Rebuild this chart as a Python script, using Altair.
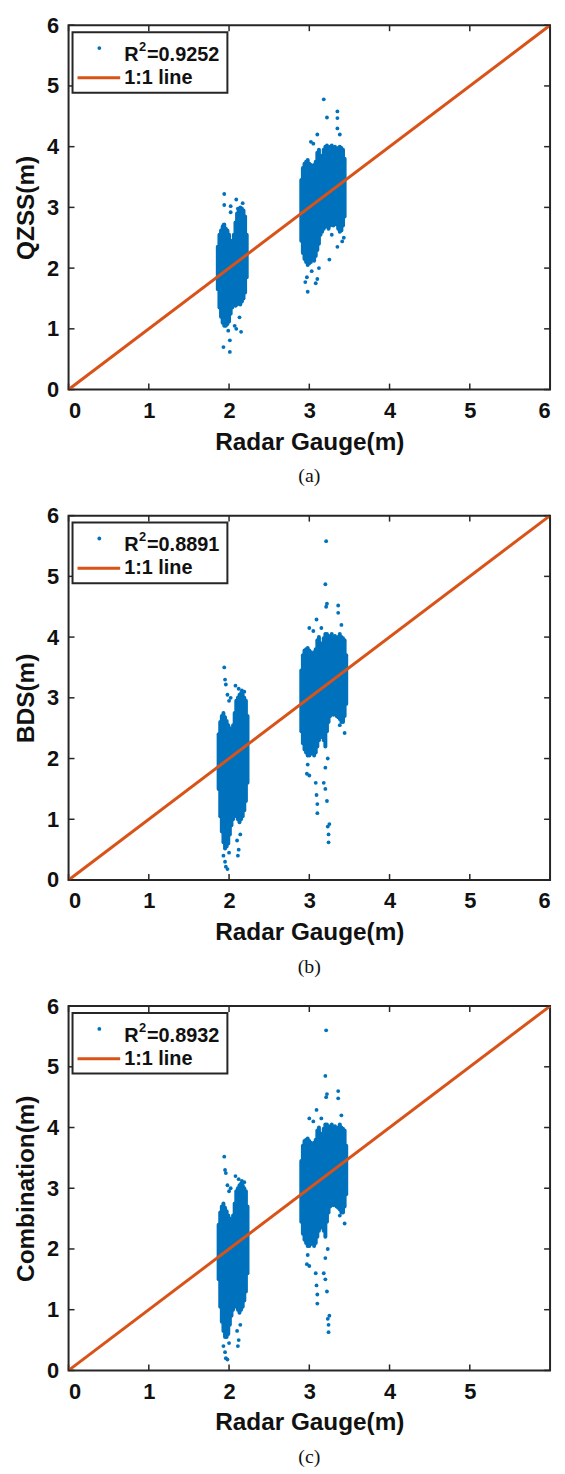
import altair as alt
import pandas as pd

# ---------------- data ----------------
x_ticks_ab = [0, 1, 2, 3, 4, 5, 6]
x_ticks_c = [0, 1, 2, 3, 4, 5]
y_ticks = [0, 1, 2, 3, 4, 5, 6]
line_x = [0, 6]
line_y = [0, 6]
y_titles = ["QZSS(m)", "BDS(m)", "Combination(m)"]
r2_values = ["=0.9252", "=0.8891", "=0.8932"]
r2_symbol = ["R", "2"]
line_label = "1:1 line"
captions = ["(a)", "(b)", "(c)"]
x_title = "Radar Gauge(m)"

# (a) QZSS  - dense core columns (x, lower edge, upper edge) and scattered points
a_core_x = [1.86, 1.88, 1.90, 1.92, 1.94, 1.96, 1.98, 2.00, 2.02, 2.04, 2.06, 2.08, 2.10, 2.12, 2.14, 2.16, 2.18, 2.20, 2.22,
            2.90, 2.92, 2.94, 2.96, 2.98, 3.00, 3.02, 3.04, 3.06, 3.08, 3.10, 3.12, 3.14, 3.16, 3.18, 3.20, 3.22, 3.24,
            3.26, 3.28, 3.30, 3.32, 3.34, 3.36, 3.38, 3.40, 3.42, 3.44]
a_core_lo = [1.65, 1.35, 1.20, 1.10, 1.05, 1.05, 1.08, 1.12, 1.25, 1.35, 1.40, 1.38, 1.40, 1.42, 1.40, 1.45, 1.50, 1.60, 1.85,
             2.45, 2.25, 2.15, 2.10, 2.05, 2.08, 2.10, 2.15, 2.12, 2.20, 2.30, 2.40, 2.55, 2.60, 2.65, 2.68, 2.70, 2.65,
             2.70, 2.72, 2.70, 2.75, 2.72, 2.65, 2.60, 2.62, 2.70, 2.85]
a_core_hi = [2.35, 2.55, 2.62, 2.68, 2.72, 2.65, 2.62, 2.55, 2.45, 2.40, 2.55, 2.75, 2.90, 2.95, 3.00, 2.98, 2.95, 2.85, 2.55,
             3.45, 3.65, 3.72, 3.75, 3.78, 3.72, 3.70, 3.68, 3.70, 3.75, 3.90, 3.95, 3.85, 3.80, 3.95, 4.00, 4.02, 3.98,
             4.00, 4.02, 3.98, 4.00, 3.95, 3.98, 4.00, 3.98, 3.95, 3.80]
a_pts_x = [1.94, 1.94, 2.02, 2.09, 2.17, 2.02, 2.11, 1.93, 1.93, 2.01, 2.01, 2.15, 2.09, 2.13, 2.07, 1.99, 1.95,
           3.18, 3.35, 3.35, 3.22, 3.35, 3.10, 3.38, 3.02, 3.05, 3.41, 3.25, 2.98, 2.95, 3.10, 3.08, 2.97, 3.03,
           3.12, 3.35, 3.28, 3.43]
a_pts_y = [3.22, 3.04, 3.02, 3.13, 3.07, 2.92, 2.98, 2.71, 0.70, 0.62, 0.81, 0.95, 1.00, 1.19, 1.05, 0.97, 1.10,
           4.78, 4.58, 4.47, 4.48, 4.30, 4.20, 4.20, 4.08, 4.05, 2.44, 2.14, 1.61, 1.77, 1.82, 1.75, 1.85, 1.95,
           2.00, 2.35, 2.55, 2.50]

# (b) BDS
b_core_x = [1.87, 1.89, 1.91, 1.93, 1.95, 1.97, 1.99, 2.01, 2.03, 2.05, 2.07, 2.09, 2.11, 2.13, 2.15, 2.17, 2.19, 2.21, 2.23,
            2.90, 2.92, 2.94, 2.96, 2.98, 3.00, 3.02, 3.04, 3.06, 3.08, 3.10, 3.12, 3.14, 3.16, 3.18, 3.20, 3.22, 3.24,
            3.26, 3.28, 3.30, 3.32, 3.34, 3.36, 3.38, 3.40, 3.42, 3.44, 3.46]
b_core_lo = [1.50, 1.05, 0.80, 0.62, 0.52, 0.55, 0.60, 0.75, 0.90, 1.00, 1.10, 1.05, 1.00, 0.95, 1.00, 1.05, 1.15, 1.30, 1.60,
             2.45, 2.25, 2.15, 2.10, 2.05, 2.05, 2.08, 2.10, 2.05, 2.10, 2.20, 2.30, 2.35, 2.40, 2.30, 2.20, 2.45, 2.60,
             2.70, 2.75, 2.72, 2.75, 2.70, 2.68, 2.65, 2.62, 2.60, 2.70, 2.90]
b_core_hi = [2.40, 2.60, 2.70, 2.75, 2.68, 2.62, 2.55, 2.50, 2.45, 2.55, 2.75, 2.95, 3.00, 3.05, 3.08, 3.05, 3.00, 2.95, 2.70,
             3.45, 3.70, 3.78, 3.80, 3.82, 3.78, 3.75, 3.72, 3.75, 3.80, 3.95, 4.00, 3.90, 3.85, 3.98, 4.05, 4.05, 4.00,
             4.02, 4.05, 4.00, 4.02, 3.98, 4.00, 4.05, 4.00, 3.98, 3.95, 3.70]
b_pts_x = [1.94, 1.95, 1.96, 1.98, 2.00, 2.08, 2.12, 2.16, 2.19, 2.02, 1.95, 1.96, 1.98, 1.93, 2.11, 2.12, 2.10, 2.14, 2.00,
           3.21, 3.20, 3.22, 3.21, 3.36, 3.36, 3.09, 3.00, 3.05, 3.15, 3.40, 3.10, 3.10, 3.09, 3.08, 3.00, 2.97, 2.98,
           3.24, 3.24, 3.23, 3.25, 3.22, 3.20, 3.18, 3.20, 3.23, 3.44, 3.40, 3.38]
b_pts_y = [3.50, 3.30, 3.22, 3.05, 2.95, 3.20, 3.15, 3.12, 3.10, 3.00, 0.30, 0.22, 0.18, 0.40, 0.40, 0.50, 0.65, 0.75, 0.45,
           5.58, 4.87, 4.55, 4.50, 4.52, 4.40, 4.29, 4.15, 4.10, 4.15, 4.20, 1.10, 1.25, 1.40, 1.60, 1.72, 1.75, 1.90,
           0.62, 0.75, 0.88, 0.92, 1.30, 1.50, 1.60, 1.85, 2.00, 2.42, 2.60, 2.55]

# (c) Combination
c_core_x = [1.87, 1.89, 1.91, 1.93, 1.95, 1.97, 1.99, 2.01, 2.03, 2.05, 2.07, 2.09, 2.11, 2.13, 2.15, 2.17, 2.19, 2.21, 2.23,
            2.90, 2.92, 2.94, 2.96, 2.98, 3.00, 3.02, 3.04, 3.06, 3.08, 3.10, 3.12, 3.14, 3.16, 3.18, 3.20, 3.22, 3.24,
            3.26, 3.28, 3.30, 3.32, 3.34, 3.36, 3.38, 3.40, 3.42, 3.44, 3.46]
c_core_lo = [1.50, 1.05, 0.80, 0.65, 0.55, 0.55, 0.60, 0.75, 0.90, 1.00, 1.10, 1.05, 1.00, 0.95, 1.00, 1.05, 1.15, 1.30, 1.60,
             2.45, 2.25, 2.15, 2.10, 2.05, 2.05, 2.08, 2.10, 2.05, 2.10, 2.20, 2.30, 2.35, 2.40, 2.30, 2.20, 2.45, 2.60,
             2.70, 2.75, 2.72, 2.75, 2.70, 2.68, 2.65, 2.62, 2.60, 2.70, 2.90]
c_core_hi = [2.40, 2.60, 2.70, 2.75, 2.68, 2.62, 2.55, 2.50, 2.45, 2.55, 2.75, 2.95, 3.00, 3.05, 3.08, 3.05, 3.00, 2.95, 2.70,
             3.45, 3.70, 3.78, 3.80, 3.82, 3.78, 3.75, 3.72, 3.75, 3.80, 3.95, 4.00, 3.90, 3.85, 3.98, 4.05, 4.05, 4.00,
             4.02, 4.05, 4.00, 4.02, 3.98, 4.00, 4.05, 4.00, 3.98, 3.95, 3.70]
c_pts_x = [1.94, 1.95, 1.96, 1.98, 2.00, 2.08, 2.12, 2.16, 2.19, 2.02, 1.95, 1.96, 1.98, 1.93, 2.11, 2.12, 2.10, 2.14, 2.00,
           3.21, 3.20, 3.22, 3.21, 3.36, 3.36, 3.09, 3.00, 3.05, 3.15, 3.40, 3.10, 3.10, 3.09, 3.08, 3.00, 2.97, 2.98,
           3.24, 3.24, 3.23, 3.25, 3.22, 3.20, 3.18, 3.20, 3.23, 3.44, 3.40, 3.38]
c_pts_y = [3.52, 3.30, 3.25, 3.05, 2.95, 3.20, 3.15, 3.12, 3.10, 3.00, 0.30, 0.20, 0.18, 0.40, 0.40, 0.50, 0.65, 0.75, 0.45,
           5.60, 4.85, 4.55, 4.50, 4.60, 4.48, 4.29, 4.15, 4.10, 4.15, 4.20, 1.10, 1.25, 1.40, 1.60, 1.72, 1.75, 1.90,
           0.63, 0.75, 0.85, 0.90, 1.30, 1.50, 1.60, 1.85, 2.00, 2.42, 2.60, 2.55]

# ---------------- styling ----------------
BLUE = "#0072BD"
ORANGE = "#D95319"
FRAME = "#262626"
INK = "#111111"
SANS = "Liberation Sans"
SERIF = "Liberation Serif"
W, H = 485, 367


def panel(core_x, core_lo, core_hi, pts_x, pts_y, ytitle, r2val, caption, xvals):
    xs = alt.Scale(domain=[0, 6], nice=False, zero=True)
    ys = alt.Scale(domain=[0, 6], nice=False, zero=True)
    core = pd.DataFrame({"x": core_x, "lo": core_lo, "hi": core_hi})
    pts = pd.DataFrame({"x": pts_x, "y": pts_y})
    one = pd.DataFrame({"x": line_x, "y": line_y})
    xt = pd.DataFrame({"x": xvals})
    yt = pd.DataFrame({"y": y_ticks})
    dummy = pd.DataFrame({"d": [0]})

    xaxis = alt.Axis(values=xvals, format="d", title=x_title, domain=False, ticks=False, grid=False,
                     labelFont=SANS, labelFontWeight="bold", labelFontSize=22, labelColor=INK,
                     labelPadding=11, titleFont=SANS, titleFontWeight="bold", titleFontSize=24.5,
                     titleColor=INK, titlePadding=9)
    yaxis = alt.Axis(values=y_ticks, format="d", title=ytitle, domain=False, ticks=False, grid=False,
                     labelFont=SANS, labelFontWeight="bold", labelFontSize=22, labelColor=INK,
                     labelPadding=10, titleFont=SANS, titleFontWeight="bold", titleFontSize=24.5,
                     titleColor=INK, titlePadding=8)
    X = lambda f: alt.X(f, scale=xs, axis=xaxis)
    Y = lambda f: alt.Y(f, scale=ys, axis=yaxis)

    core_layer = alt.Chart(core).mark_rule(color=BLUE, strokeWidth=4, strokeCap="round").encode(
        x=X("x:Q"), y=Y("lo:Q"), y2="hi:Q")
    pts_layer = alt.Chart(pts).mark_circle(color=BLUE, size=15, opacity=1).encode(
        x=X("x:Q"), y=Y("y:Q"))
    line_layer = alt.Chart(one).mark_line(color=ORANGE, strokeWidth=3).encode(
        x=X("x:Q"), y=Y("y:Q"))
    tick_b = alt.Chart(xt).mark_rule(color=FRAME, strokeWidth=1.5).encode(
        x=X("x:Q"), y=alt.value(H), y2=alt.value(H - 6))
    tick_t = alt.Chart(xt).mark_rule(color=FRAME, strokeWidth=1.5).encode(
        x=X("x:Q"), y=alt.value(0), y2=alt.value(6))
    tick_l = alt.Chart(yt).mark_rule(color=FRAME, strokeWidth=1.5).encode(
        y=Y("y:Q"), x=alt.value(0), x2=alt.value(6))
    tick_r = alt.Chart(yt).mark_rule(color=FRAME, strokeWidth=1.5).encode(
        y=Y("y:Q"), x=alt.value(W), x2=alt.value(W - 6))

    leg_box = alt.Chart(dummy).mark_rect(fill="white", stroke=FRAME, strokeWidth=2).encode(
        x=alt.value(4), x2=alt.value(160), y=alt.value(7), y2=alt.value(68))
    leg_dot = alt.Chart(dummy).mark_circle(color=BLUE, size=15, opacity=1).encode(
        x=alt.value(31), y=alt.value(23))
    leg_line = alt.Chart(dummy).mark_rule(color=ORANGE, strokeWidth=3).encode(
        x=alt.value(9), x2=alt.value(52), y=alt.value(53))
    txt = dict(align="left", baseline="middle", font=SANS, fontWeight="bold", color=INK)
    leg_r = alt.Chart(dummy).mark_text(fontSize=20, **txt).encode(
        x=alt.value(56), y=alt.value(30), text=alt.value(r2_symbol[0]))
    leg_sup = alt.Chart(dummy).mark_text(fontSize=13, **txt).encode(
        x=alt.value(71), y=alt.value(22), text=alt.value(r2_symbol[1]))
    leg_val = alt.Chart(dummy).mark_text(fontSize=20, **txt).encode(
        x=alt.value(79), y=alt.value(30), text=alt.value(r2val))
    leg_t2 = alt.Chart(dummy).mark_text(fontSize=20, **txt).encode(
        x=alt.value(56), y=alt.value(53), text=alt.value(line_label))

    return alt.layer(core_layer, pts_layer, line_layer, tick_b, tick_t, tick_l, tick_r,
                     leg_box, leg_dot, leg_line, leg_r, leg_sup, leg_val, leg_t2).properties(
        width=W, height=H,
        title=alt.TitleParams(caption, orient="bottom", anchor="middle", font=SERIF, fontSize=20,
                              fontWeight="normal", color=INK, offset=13),
    )


pa = panel(a_core_x, a_core_lo, a_core_hi, a_pts_x, a_pts_y, y_titles[0], r2_values[0], captions[0], x_ticks_ab)
pb = panel(b_core_x, b_core_lo, b_core_hi, b_pts_x, b_pts_y, y_titles[1], r2_values[1], captions[1], x_ticks_ab)
pc = panel(c_core_x, c_core_lo, c_core_hi, c_pts_x, c_pts_y, y_titles[2], r2_values[2], captions[2], x_ticks_c)

chart = alt.vconcat(pa, pb, pc, spacing=16).properties(
    padding={"left": 4, "top": 0, "right": 0, "bottom": 0}
).configure_view(stroke=FRAME, strokeWidth=2)

chart.save("out.html", embed_options={"renderer": "svg", "actions": False})
